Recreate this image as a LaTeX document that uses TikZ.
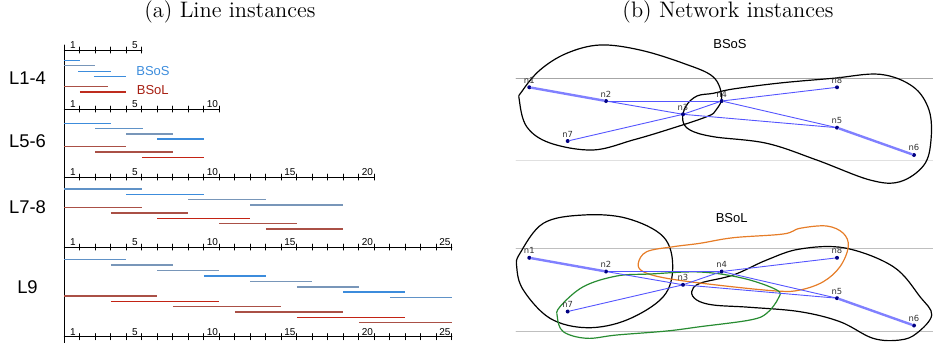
\documentclass[tikz,border=0pt]{standalone}
\usepackage{fontspec}
\newfontfamily\lblfont{Liberation Sans}
\newfontfamily\nodefont{DejaVu Sans}
\usepackage{tikz}

\definecolor{sosblue}{RGB}{60,140,220}
\definecolor{sosgray}{RGB}{120,150,185}
\definecolor{solbrown}{RGB}{170,80,70}
\definecolor{solred}{RGB}{195,35,20}
\definecolor{edgeblue}{RGB}{85,85,255}
\definecolor{dotblue}{RGB}{0,0,130}
\definecolor{hullgreen}{RGB}{40,140,50}
\definecolor{hullorange}{RGB}{230,125,40}

% ruler: y position, number of slots, labelled slots
\newcommand{\ruler}[3]{%
  \draw[tick] (0,#1) -- (#2,#1);
  \foreach \t in {1,...,#2} \draw[tick] (\t,#1-3) -- (\t,#1+3);
  \foreach \t in {#3} \node[ticklbl] at (\t-0.45,#1-1) {\t};}

\begin{document}
\begin{tikzpicture}[x=0.5pt, y=-0.5pt, line join=round, line cap=round,
  tick/.style={line width=0.5pt},
  ticklbl/.style={anchor=south, inner sep=0pt, font=\lblfont\fontsize{5}{5}\selectfont},
  grouplbl/.style={font=\lblfont\fontsize{9.2}{10}\selectfont},
  setlbl/.style={anchor=west, inner sep=0pt, font=\lblfont\fontsize{6.5}{7}\selectfont},
  title/.style={font=\fontsize{11.2}{13}\selectfont},
  interval/.style={line width=0.7pt, line cap=butt},
  dot/.style={circle, fill=dotblue, inner sep=0pt, minimum size=2pt},
  nlabel/.style={font=\nodefont\fontsize{4.2}{4.2}\selectfont, text=black!80, inner sep=0.6pt},
  edge/.style={edgeblue, line width=0.45pt},
  heavy/.style={edgeblue!75, line width=1.2pt},
  hull/.style={line width=0.6pt}]
\useasboundingbox (0,0) rectangle (933,343);

% titles
\node[title] at (230,12) {(a) Line instances};
\node[title] at (728,12) {(b) Network instances};

% (a) line instances
\node[grouplbl] at (27.5,78) {L1-4};
\node[grouplbl] at (27.5,140.7) {L5-6};
\node[grouplbl] at (27.5,206.7) {L7-8};
\node[grouplbl] at (27.5,287.3) {L9};
\node[setlbl, text=sosblue] at (136,70.7) {BSoS};
\node[setlbl, text=solred!85!black] at (136.5,90) {BSoL};

\begin{scope}[xshift=32.15pt, x=7.75pt]
\draw[tick] (0,45) -- (0,343);
\ruler{50}{5}{1,5}
\ruler{109}{10}{1,5,10}
\ruler{177}{20}{1,5,10,15,20}
\ruler{247}{25}{1,5,10,15,20,25}
\ruler{336.7}{25}{1,5,10,15,20,25}
% L1-4
\foreach \a/\b/\y/\c in {0/1/60.7/sosblue, 0/2/65.7/sosgray, 0.9/3/71.3/sosblue,
  1.9/4/76.7/sosblue, 0/2.8/86.7/solbrown, 1/4/92/solred!80!solbrown}
  \draw[interval,\c] (\a,\y) -- (\b,\y);
% L5-6
\foreach \a/\b/\y/\c in {0/3/123.3/sosblue, 2/5.1/128.7/sosgray!60!sosblue,
  4/7/134/sosgray, 6/9/139/sosblue, 0/4/146.7/solbrown, 2/7/152/solbrown,
  5/9/157.3/solred}
  \draw[interval,\c] (\a,\y) -- (\b,\y);
% L7-8
\foreach \a/\b/\y/\c in {0/5/189/sosgray!60!sosblue, 4/9/194.3/sosblue,
  8/13/199.7/sosgray, 12/18/205/sosgray, 0/5/207.7/solbrown, 3/8/213/solbrown,
  6/12/218.3/solred, 10/15/223.7/solbrown, 13/18/229/solbrown}
  \draw[interval,\c] (\a,\y) -- (\b,\y);
% L9
\foreach \a/\b/\y/\c in {0/4/259.7/sosgray!60!sosblue, 3/7/265/sosgray,
  6/10/270.7/sosgray, 9/13/276/sosblue, 12/16/281.7/sosgray, 15/19/287/sosgray,
  18/22/292/sosblue, 21/25/297.7/sosgray!60!sosblue,
  0/6/296/solbrown, 3/10/301.3/solred, 7/14/306.7/solbrown, 11/18/312/solbrown,
  15/22/317.3/solred, 19/25/322.7/solbrown}
  \draw[interval,\c] (\a,\y) -- (\b,\y);
\end{scope}

% (b) network instances
\draw[black!35, line width=0.4pt] (516,78.3) -- (933,78.3);
\draw[black!12, line width=0.4pt] (516,160) -- (933,160);
\draw[black!25, line width=0.4pt] (516,248.3) -- (933,248.3);
\draw[black!25, line width=0.4pt] (516,331.7) -- (933,331.7);
\node[font=\lblfont\fontsize{6.5}{7}\selectfont] at (730,44) {BSoS};
\node[font=\lblfont\fontsize{6.5}{7}\selectfont] at (731.7,218.3) {BSoL};

% BSoS clusters
\draw[hull] plot[smooth cycle, tension=0.6] coordinates {(521.7,91.7) (540,70)
  (566.7,53.3) (600,45) (640,50) (683.3,63.3) (713,76.7) (721.7,96.7) (716,110)
  (706.7,116.7) (666.7,130) (633,140) (593,150) (550,143) (526.7,126.7) (519.3,100)};
\draw[hull] plot[smooth cycle, tension=0.6] coordinates {(682.7,120) (686,106)
  (697,96) (713.3,93.3) (733,89) (780,83) (833,78.3) (880,74.3) (913,86.7)
  (929,110) (931,140) (924,165) (900,181.7) (870,180) (816.7,160) (766.7,143.3)
  (713.3,136.7) (690,130)};

% BSoL clusters
\draw[hull] plot[smooth cycle, tension=0.6] coordinates {(520,253.3) (543.3,223.3)
  (583.3,215) (626.7,218.3) (663.3,236.7) (672.7,266.7) (663.3,296.7) (626.7,320)
  (586.7,327.7) (550,318.3) (523.3,290) (516.7,266.7)};
\draw[hull] plot[smooth cycle, tension=0.6] coordinates {(691.7,291.7) (700,283.3)
  (733.3,275) (766.7,260) (800,249) (845,248) (893.3,266.7) (920,296.7)
  (931.7,315) (916.7,333.3) (900,340) (873,338.3) (840,321.7) (800,311.7)
  (750,307.3) (713.3,305) (696.7,300)};
\draw[hull, hullorange] plot[smooth cycle, tension=0.6] coordinates {(638.3,263.3)
  (646.7,251.7) (673.3,246.7) (700,243.3) (733.3,237.7) (783.3,234) (800,228.3)
  (826.7,226) (843.3,233.3) (848.3,246.7) (840,266.7) (823.3,281.7) (800,290)
  (776.7,291) (716.7,285) (666.7,278.3) (643.3,271.7)};
\draw[hull, hullgreen] plot[smooth cycle, tension=0.6] coordinates {(560,306.7)
  (583.3,286.7) (616.7,276) (650,274) (700,272) (743.3,278.3) (776.7,290)
  (778.3,298.3) (766.7,313.3) (750,320) (700,326.7) (666.7,331) (616.7,335)
  (586.7,338.3) (563.3,331.7) (557.3,316.7)};

% nodes and edges of both networks
\foreach \net/\dy in {s/0, l/170.5} {
  \foreach \i/\px/\py in {1/529.3/87.3, 2/606/101, 3/683/114.3, 4/721.7/101,
    5/837/127.7, 6/914/155, 7/567.7/141, 8/837/87.3}
    \node[dot, label={[nlabel]above:n\i}] (\net\i) at (\px,\py+\dy) {};
  \draw[heavy] (\net1) -- (\net2);
  \draw[heavy] (\net5) -- (\net6);
  \foreach \u/\v in {2/3, 2/4, 3/5, 7/3, 3/4, 4/8, 4/5}
    \draw[edge] (\net\u) -- (\net\v);
}
\end{tikzpicture}
\end{document}
